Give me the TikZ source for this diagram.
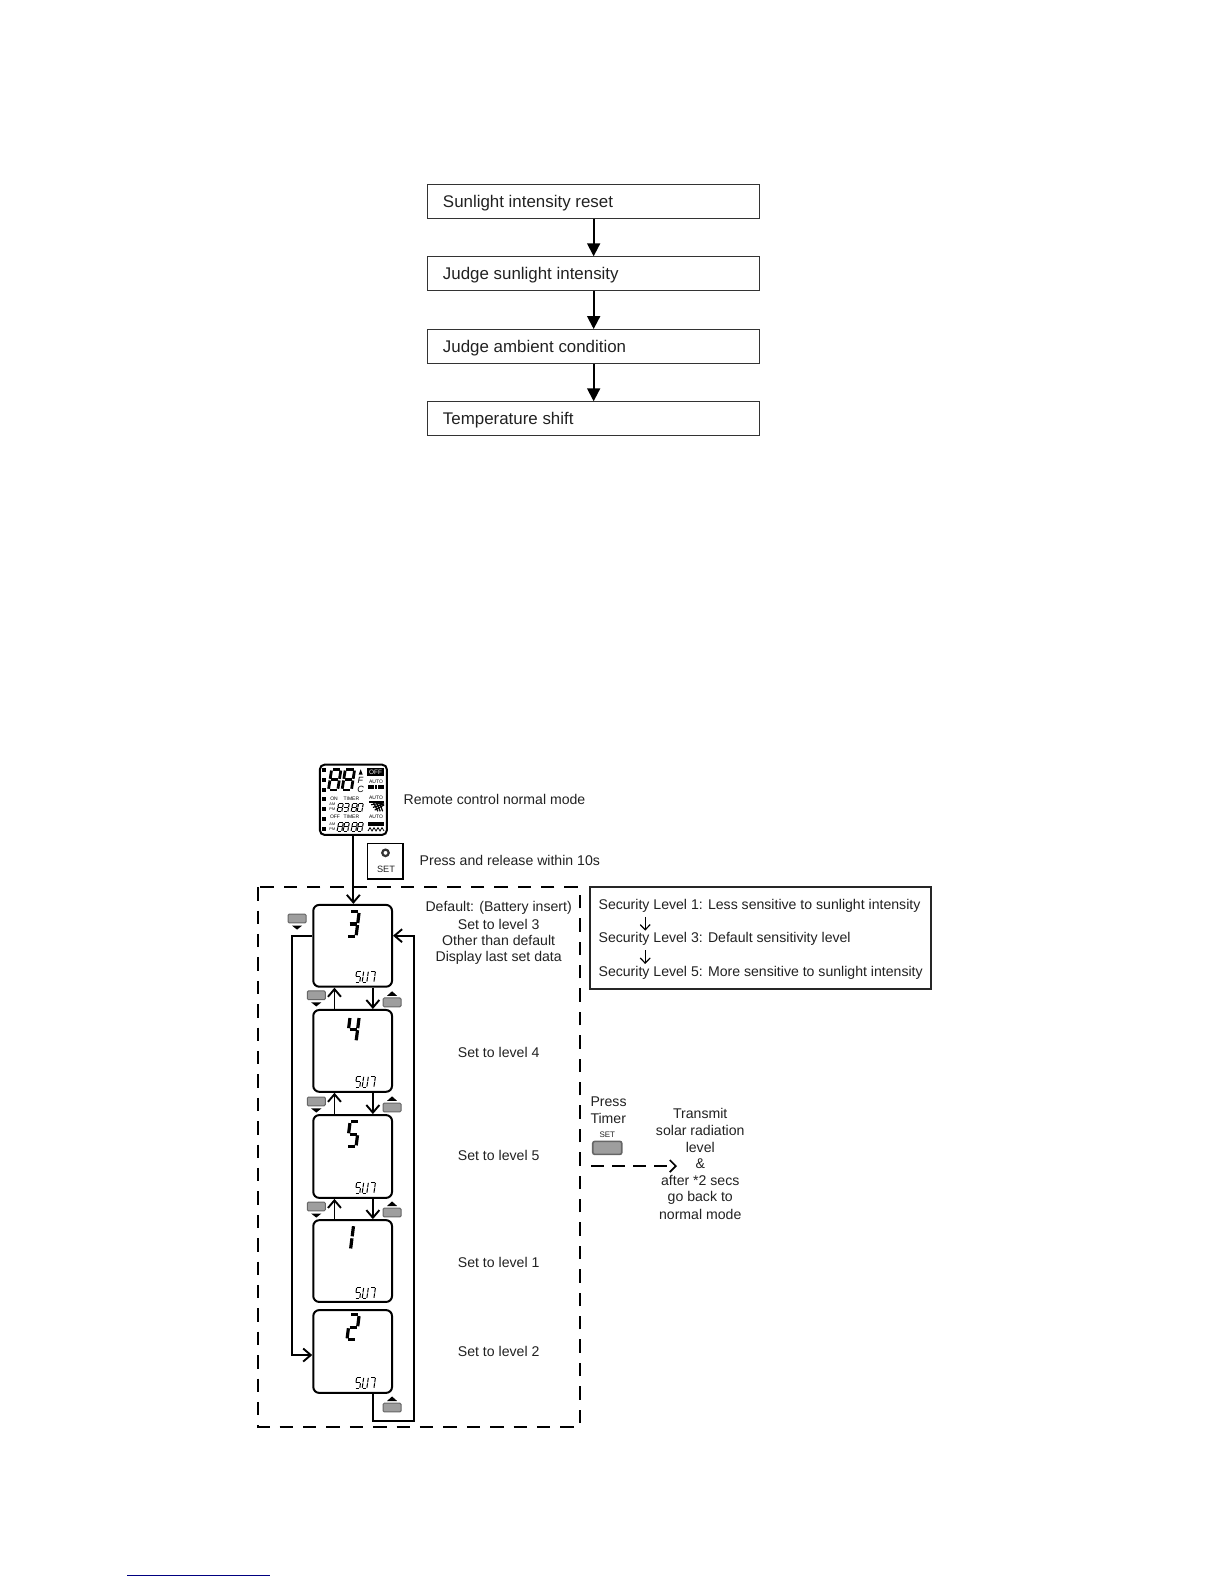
\documentclass[tikz,border=0pt]{standalone}
\usepackage{fontspec}
\setmainfont{Liberation Sans}
\usetikzlibrary{arrows.meta,calc}
\definecolor{inkc}{gray}{0.13}
\tikzset{
  flowbox/.style={draw=black!80,line width=0.55pt,minimum width=166.2pt,minimum height=17pt,inner sep=0pt},
  flowtxt/.style={anchor=west,inner sep=0pt,text=inkc,font=\fontsize{8.45}{10}\selectfont},
  flowarrow/.style={draw=black,line width=0.95pt,-{Triangle[length=6.5pt,width=6.5pt]}},
  lbl/.style={inner sep=0pt,text=inkc,font=\fontsize{7.05}{9}\selectfont},
  lbll/.style={lbl,anchor=west},
  panel/.style={draw=black,line width=1pt,rounded corners=3pt,minimum width=39.4pt,inner sep=0pt,fill=white},
  link/.style={draw=black,line width=0.95pt},
  openarrow/.style={link,-{Straight Barb[length=3.8pt,width=6.5pt]}},
  btn/.style={draw=black!60,fill=black!38,line width=0.5pt,rounded corners=0.6pt,minimum width=9pt,minimum height=4.4pt,inner sep=0pt},
  dashbox/.style={draw=black,line width=1pt,dash pattern=on 6.7pt off 5pt},
  tiny/.style={inner sep=0pt,text=black,font=\fontsize{2.5}{3}\selectfont},
}
% seven segment glyph: x,y top-left; w,h; line width; segments
\newcommand{\segglyph}[6]{%
  \begin{scope}[shift={(#1,#2)},xscale=#3,yscale=#4,xslant=0.35]
    \foreach \s in {#6}{%
      \ifcase\s
        \draw[line width=#5] (0.12,0)--(0.88,0);\or
        \draw[line width=#5] (1,0.06)--(1,0.46);\or
        \draw[line width=#5] (1,0.54)--(1,0.94);\or
        \draw[line width=#5] (0.12,1)--(0.88,1);\or
        \draw[line width=#5] (0,0.54)--(0,0.94);\or
        \draw[line width=#5] (0,0.06)--(0,0.46);\or
        \draw[line width=#5] (0.12,0.5)--(0.88,0.5);\fi}
  \end{scope}}
\newcommand{\sunword}[2]{%
  \segglyph{#1}{#2}{4.6}{11}{0.5pt}{0,5,6,2,3}%
  \segglyph{#1+7}{#2}{4.6}{11}{0.5pt}{5,4,3,2,1}%
  \segglyph{#1+14}{#2}{4.6}{11}{0.5pt}{0,1,2}}
\newcommand{\btnup}[3]{%
  \node[btn] (#1) at (#2,#3) {};
  \fill[black] (#2-5,#3-6.5)--(#2+5,#3-6.5)--(#2,#3-11)--cycle;}
\newcommand{\btndown}[3]{%
  \node[btn] (#1) at (#2,#3) {};
  \fill[black] (#2-5,#3+7)--(#2+5,#3+7)--(#2,#3+11)--cycle;}
\begin{document}
\begin{tikzpicture}[x=0.5053pt,y=-0.5053pt]
\useasboundingbox (0,0) rectangle (1211.3,1567.6);
% ---- upper flow
\node[flowbox] (f1) at (587.5,199.5) {};
\node[flowbox] (f2) at (587.5,271) {};
\node[flowbox] (f3) at (587.5,343) {};
\node[flowbox] (f4) at (587.5,414.5) {};
\node[flowtxt] (t1) at (438,201) {Sunlight intensity reset};
\node[flowtxt] (t2) at (438,272.5) {Judge sunlight intensity};
\node[flowtxt] (t3) at (438,344.5) {Judge ambient condition};
\node[flowtxt] (t4) at (438,416) {Temperature shift};
\draw[flowarrow] (f1)--(f2);
\draw[flowarrow] (f2)--(f3);
\draw[flowarrow] (f3)--(f4);
% ---- remote display
\node[draw=black,line width=1pt,rounded corners=2.5pt,minimum width=33.6pt,minimum height=35.2pt,inner sep=0pt] (lcd) at (349.7,791.5) {};
\begin{scope}[shift={(277.1,732.3)},x=0.1667pt,y=-0.1667pt]
  \foreach \yy in {90,120,150,178,208,238,267}{\fill (125,\yy-6) rectangle (137,\yy+6);}
  \segglyph{155}{88}{28}{62}{1.4pt}{0,1,2,3,4,5,6}
  \segglyph{196}{88}{28}{62}{1.4pt}{0,1,2,3,4,5,6}
  \fill (242,88)--(236,104)--(248,104)--cycle;
  \node[tiny,font=\fontsize{4.5}{5}\itshape\selectfont] (uf) at (241,122) {F};
  \node[tiny,font=\fontsize{4.5}{5}\itshape\selectfont] (uc) at (242,148) {C};
  \fill (260,85) rectangle (313,107);
  \node[tiny,text=white,font=\fontsize{3.2}{4}\selectfont] (off1) at (286.5,96) {OFF};
  \node[tiny] (au1) at (288,124) {AUTO};
  \foreach \xx in {264,274,284,294,304}{\fill (\xx,135) rectangle (\xx+8,148);}
  \node[tiny] (on1) at (162,175) {ON};
  \node[tiny] (ti1) at (214,175) {TIMER};
  \node[tiny] (au2) at (288,172) {AUTO};
  \node[tiny,font=\fontsize{1.9}{2.5}\selectfont,align=center] (am1) at (157,201) {AM\\[-0.2pt]PM};
  \segglyph{176}{190}{14}{26}{0.5pt}{0,1,2,3,4,5,6}
  \segglyph{194}{190}{14}{26}{0.5pt}{0,1,2,3,6}
  \segglyph{218}{190}{14}{26}{0.5pt}{0,1,2,3,4,5,6}
  \segglyph{236}{190}{14}{26}{0.5pt}{0,1,2,3,4,5}
  \foreach \yy in {0,6,12,18}{\draw[line width=0.6pt] (268+\yy*0.9,186+\yy*1.35)--(312,186+\yy*0.5);}
  \foreach \xx in {0,9,18}{\draw[line width=0.6pt] (298-\xx,187)--(308-\xx*.8,214);}
  \node[tiny] (of2) at (165,230) {OFF};
  \node[tiny] (ti2) at (214,230) {TIMER};
  \node[tiny] (au3) at (288,230) {AUTO};
  \node[tiny,font=\fontsize{1.9}{2.5}\selectfont,align=center] (am2) at (157,260) {AM\\[-0.2pt]PM};
  \segglyph{176}{248}{14}{26}{0.5pt}{0,1,2,3,4,5,6}
  \segglyph{194}{248}{14}{26}{0.5pt}{0,1,2,3,4,5,6}
  \segglyph{218}{248}{14}{26}{0.5pt}{0,1,2,3,4,5,6}
  \segglyph{236}{248}{14}{26}{0.5pt}{0,1,2,3,4,5,6}
  \fill (265,245) rectangle (312,259);
  \draw[line width=0.4pt] (264,273)--(270,263)--(276,273)--(282,263)--(288,273)--(294,263)--(300,273)--(306,263)--(312,273);
\end{scope}
\node[lbll] (rc) at (399,791) {Remote control normal mode};
% SET box
\node[draw=black,line width=0.7pt,minimum width=17.7pt,minimum height=17.7pt,inner sep=0pt] (setbox) at (381.5,852.5) {};
\draw[line width=1.1pt,black!80] (381.5,844) circle (3.2);
\node[inner sep=0pt,text=inkc,font=\fontsize{4.6}{5}\selectfont] (settxt) at (382,860) {SET};
\node[lbll] (pr) at (415,851.5) {Press and release within 10s};
% dashed frame
\draw[dashbox] (255,878) rectangle (574,1412);
% panels
\node[panel,minimum height=40.9pt] (p3) at (349,936) {};
\node[panel,minimum height=40.9pt] (p4) at (349,1040) {};
\node[panel,minimum height=41.4pt] (p5) at (349,1144.5) {};
\node[panel,minimum height=40.9pt] (p1) at (349,1248) {};
\node[panel,minimum height=41.4pt] (p2) at (349,1337.5) {};
\segglyph{346.5}{902}{9}{25}{1.6pt}{0,1,2,3,6}
\segglyph{346.5}{1006}{9}{25}{1.6pt}{5,6,1,2}
\segglyph{346.5}{1110}{9}{25}{1.6pt}{0,5,6,2,3}
\segglyph{341}{1212}{9}{25}{1.6pt}{1,2}
\segglyph{346.5}{1301}{9}{25}{1.6pt}{0,1,6,4,3}
\sunword{353}{961}
\sunword{353}{1065}
\sunword{353}{1170}
\sunword{353}{1274}
\sunword{353}{1363}
% connector guide coordinates
\coordinate (ux) at (331,0);
\coordinate (dx) at (369,0);
\coordinate (lx) at (289,0);
\coordinate (rx) at (410,0);
\coordinate (ty) at (0,926);
\coordinate (ly) at (0,1341);
\coordinate (by) at (0,1406);
% connectors
\draw[openarrow] (lcd.south)--(lcd.south |- p3.north);
\draw[openarrow] (p4.north -| ux)--(p3.south -| ux);
\draw[openarrow] (p3.south -| dx)--(p4.north -| dx);
\draw[openarrow] (p5.north -| ux)--(p4.south -| ux);
\draw[openarrow] (p4.south -| dx)--(p5.north -| dx);
\draw[openarrow] (p1.north -| ux)--(p5.south -| ux);
\draw[openarrow] (p5.south -| dx)--(p1.north -| dx);
\draw[openarrow] (p3.west |- ty)--(lx |- ty)--(lx |- ly)--(p2.west |- ly);
\draw[openarrow] (p2.south -| dx)--(dx |- by)--(rx |- by)--(rx |- ty)--(p3.east |- ty);
% buttons
\btndown{b3}{294}{909}
\btndown{b4}{313}{985}
\btndown{b5}{313}{1090}
\btndown{b6}{313}{1194}
\btnup{u3}{388}{992}
\btnup{u4}{388}{1096}
\btnup{u5}{388}{1200}
\btnup{u6}{388}{1393}
% level labels
\node[lbl] (d1) at (493.5,898) {Default: (Battery insert)};
\node[lbl] (d2) at (493.5,914.5) {Set to level 3};
\node[lbl] (d3) at (493.5,931) {Other than default};
\node[lbl] (d4) at (493.5,948) {Display last set data};
\node[lbl] (l4) at (493.5,1041.5) {Set to level 4};
\node[lbl] (l5) at (493.5,1143.5) {Set to level 5};
\node[lbl] (l1) at (493.5,1249.5) {Set to level 1};
\node[lbl] (l2) at (493.5,1337.5) {Set to level 2};
% security box
\node[draw=black!85,line width=1.1pt,minimum width=170.3pt,minimum height=51pt,inner sep=0pt] (sec) at (752.5,928.5) {};
\node[lbll] (s1) at (592,896.5) {Security Level 1: Less sensitive to sunlight intensity};
\node[lbll] (s3) at (592,929.5) {Security Level 3: Default sensitivity level};
\node[lbll] (s5) at (592,963) {Security Level 5: More sensitive to sunlight intensity};
\coordinate (sa) at (638.5,0);
\coordinate (se1) at (638.5,921);
\coordinate (se3) at (638.5,954);
\draw[link,line width=0.6pt,-{Straight Barb[length=2.6pt,width=5pt]}] ($(sa |- s1.south)+(0,4)$)--(se1);
\draw[link,line width=0.6pt,-{Straight Barb[length=2.6pt,width=5pt]}] ($(sa |- s3.south)+(0,4)$)--(se3);
% timer
\node[lbll] (pt1) at (584,1090) {Press};
\node[lbll] (pt2) at (584,1106.5) {Timer};
\node[inner sep=0pt,text=inkc,font=\fontsize{4}{5}\selectfont] (pt3) at (601,1123) {SET};
\node[btn,minimum width=14.5pt,minimum height=6.5pt,line width=0.8pt,rounded corners=1pt] (tb) at (601,1136) {};
\coordinate (ds) at (585,1154);
\coordinate (de) at (670,1154);
\draw[link,line width=0.85pt,dash pattern=on 6.5pt off 4pt,-{Straight Barb[length=3pt,width=6pt]}] (ds)--(de);
\node[lbl] (m1) at (693,1102) {Transmit};
\node[lbl] (m2) at (693,1119) {solar radiation};
\node[lbl] (m3) at (693,1135.5) {level};
\node[lbl] (m4) at (693,1152) {\&};
\node[lbl] (m5) at (693,1168.5) {after *2 secs};
\node[lbl] (m6) at (693,1185.5) {go back to};
\node[lbl] (m7) at (693,1202) {normal mode};
% footer rule
\draw[draw=blue!50!black,line width=0.6pt] (126,1559)--(267,1559);
\end{tikzpicture}
\end{document}
